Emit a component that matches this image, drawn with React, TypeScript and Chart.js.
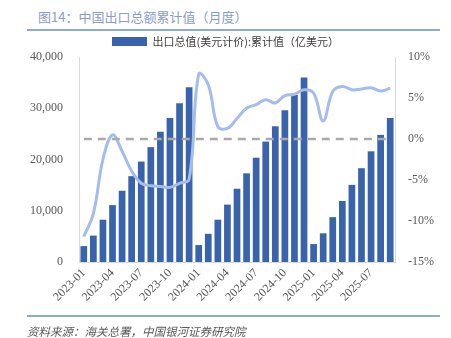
import React, { useEffect, useRef } from "react";
import { Chart, registerables } from "chart.js";

Chart.register(...registerables);

const months: string[] = [
  "2023-01","2023-02","2023-03","2023-04","2023-05","2023-06","2023-07","2023-08","2023-09","2023-10","2023-11","2023-12",
  "2024-01","2024-02","2024-03","2024-04","2024-05","2024-06","2024-07","2024-08","2024-09","2024-10","2024-11","2024-12",
  "2025-01","2025-02","2025-03","2025-04","2025-05","2025-06","2025-07","2025-08","2025-09",
];

const exportCum: number[] = [
  3100, 5150, 8250, 11100, 13900, 16750, 19600, 22400, 25400, 28100, 31000, 34100,
  3300, 5500, 8250, 11200, 14300, 17300, 20350, 23500, 26500, 29600, 32600, 36000,
  3500, 5600, 8750, 11900, 15050, 18300, 21600, 24800, 28100,
];

const yoyCum: number[] = [
  -11.9, -9.1, -2.5, 0.5, -1.5, -3.9, -5.4, -5.7, -5.8, -5.9, -5.4, -4.9,
  7.9, 6.6, 1.5, 1.3, 2.5, 3.75, 4.2, 4.8, 4.4, 5.3, 5.45, 6.0,
  5.6, 2.2, 5.8, 6.4, 6.0, 6.1, 6.25, 5.85, 6.2,
];

const zeroLine: number[] = months.map(() => 0);

const legendLabel = "出口总值(美元计价):累计值（亿美元）";
const titleText = "图14：中国出口总额累计值（月度）";
const sourceText = "资料来源：海关总署，中国银河证券研究院";

export default function App() {
  const canvasRef = useRef<HTMLCanvasElement | null>(null);

  useEffect(() => {
    document.body.style.margin = "0";
    const ctx = canvasRef.current;
    if (!ctx) return;
    const tickFont = { family: "'Liberation Serif', 'Times New Roman', serif", size: 12 };
    const chart = new Chart(ctx, {
      data: {
        labels: months,
        datasets: [
          {
            type: "line" as const,
            label: "zero",
            data: zeroLine,
            yAxisID: "y1",
            borderColor: "#aaaaaa",
            borderWidth: 2.5,
            borderDash: [8, 6],
            pointRadius: 0,
            tension: 0,
            order: 0,
          },
          {
            type: "line" as const,
            label: "yoy",
            data: yoyCum,
            yAxisID: "y1",
            borderColor: "#a5bde8",
            borderWidth: 3,
            pointRadius: 0,
            tension: 0.4,
            order: 1,
          },
          {
            type: "bar" as const,
            label: legendLabel,
            data: exportCum,
            yAxisID: "y",
            backgroundColor: "#3a63ae",
            borderWidth: 0,
            barPercentage: 0.7,
            categoryPercentage: 1,
            order: 2,
          },
        ],
      },
      options: {
        animation: false,
        responsive: false,
        maintainAspectRatio: false,
        layout: { padding: { top: 34, left: 0, right: 0, bottom: 24 } },
        plugins: {
          tooltip: { enabled: false },
          legend: {
            display: true,
            position: "top",
            labels: {
              filter: (item: any) => item.text === legendLabel,
              boxWidth: 35,
              boxHeight: 9,
              padding: 2,
              color: "#404040",
              font: { family: "'Noto Sans CJK SC', sans-serif", size: 11 },
            },
          },
        },
        scales: {
          x: {
            grid: { display: false, drawTicks: false },
            border: { display: true, color: "#d9d9d9", width: 1 },
            ticks: {
              autoSkip: false,
              maxRotation: 45,
              minRotation: 45,
              padding: 4,
              color: "#595959",
              font: tickFont,
              callback: (_v: any, i: number) => (i % 3 === 0 ? months[i] : ""),
            },
            afterFit: (s: any) => {
              s.height = 52;
            },
          },
          y: {
            position: "left",
            min: 0,
            max: 40000,
            grid: { display: false, drawTicks: false },
            border: { display: true, color: "#d9d9d9", width: 1 },
            ticks: {
              stepSize: 10000,
              padding: 16,
              color: "#595959",
              font: tickFont,
              callback: (v: any) => Number(v).toLocaleString("en-US"),
            },
            afterFit: (s: any) => {
              s.width = 79;
            },
          },
          y1: {
            position: "right",
            min: -15,
            max: 10,
            grid: { display: false, drawTicks: false },
            border: { display: true, color: "#d9d9d9", width: 1 },
            ticks: {
              stepSize: 5,
              padding: 13,
              color: "#595959",
              font: tickFont,
              callback: (v: any) => `${v}%`,
            },
            afterFit: (s: any) => {
              s.width = 56;
            },
          },
        },
      },
    } as any);
    return () => chart.destroy();
  }, []);

  return (
    <div style={{ position: "relative", width: 451, height: 338, background: "#fff", overflow: "hidden" }}>
      <div
        style={{
          position: "absolute",
          left: 38,
          top: 8,
          fontFamily: "'Noto Sans CJK SC', sans-serif",
          fontSize: 13,
          lineHeight: "18px",
          color: "#8a9cc9",
          whiteSpace: "nowrap",
        }}
      >
        {titleText}
      </div>
      <div style={{ position: "absolute", left: 27, top: 29, width: 413, height: 1.5, background: "#8eaadb" }} />
      <canvas ref={canvasRef} width={451} height={338} style={{ position: "absolute", left: 0, top: 0 }} />
      <div style={{ position: "absolute", left: 27, top: 315, width: 413, height: 1.5, background: "#8eaadb" }} />
      <div
        style={{
          position: "absolute",
          left: 27,
          top: 323,
          fontFamily: "'Noto Sans CJK SC', sans-serif",
          fontStyle: "italic",
          fontSize: 11.5,
          lineHeight: "16px",
          color: "#595959",
          whiteSpace: "nowrap",
        }}
      >
        {sourceText}
      </div>
    </div>
  );
}
